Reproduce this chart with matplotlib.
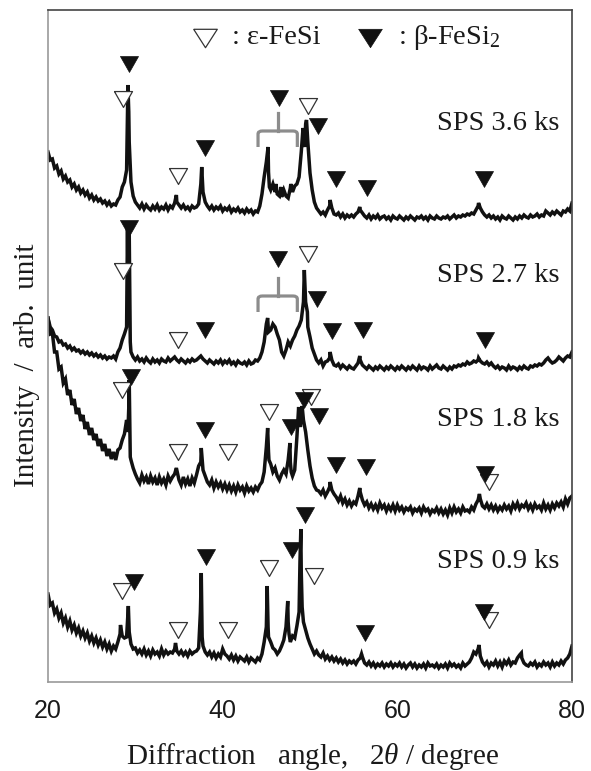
import matplotlib
matplotlib.use('Agg')
import matplotlib.pyplot as plt
import numpy as np
from matplotlib.path import Path
from matplotlib.patches import PathPatch

plt.rcParams['font.family'] = ['Liberation Serif', 'DejaVu Serif']
plt.rcParams['mathtext.fontset'] = 'custom'
plt.rcParams['mathtext.rm'] = 'Liberation Serif'
plt.rcParams['mathtext.it'] = 'Liberation Serif:italic'

# Common 2theta sampling (degree) for all four patterns
two_theta = np.arange(20.0, 80.001, 0.25)

# Intensities (arb. unit) on the common grid, one row per 5 degrees
counts_36 = [
    80, 72, 73, 64, 66, 58, 61, 53, 56, 50, 52, 45, 48, 42, 45, 39, 42, 37, 40, 34,
    37, 32, 35, 31, 33, 29, 31, 27, 30, 26, 28, 27, 32, 35, 45, 50, 62, 120, 50, 36,
    30, 27, 24, 28, 23, 27, 24, 22, 26, 23, 27, 22, 25, 23, 27, 22, 26, 24, 29, 30,
    27, 24, 27, 23, 25, 22, 26, 24, 25, 28, 48, 40, 30, 26, 23, 26, 22, 25, 23, 26,
    21, 24, 22, 25, 20, 23, 21, 24, 20, 22, 19, 23, 20, 22, 18, 21, 20, 26, 38, 55,
    70, 60, 42, 48, 40, 38, 36, 35, 42, 36, 34, 44, 40, 46, 48, 55, 80, 95, 108, 90,
    59, 42, 30, 24, 21, 18, 20, 17, 22, 26, 24, 18, 17, 19, 15, 18, 14, 17, 15, 17,
    15, 18, 20, 22, 19, 16, 14, 17, 13, 16, 14, 17, 13, 15, 16, 13, 15, 12, 16, 14,
    13, 16, 14, 12, 15, 13, 16, 14, 12, 15, 14, 16, 13, 15, 12, 16, 14, 13, 16, 14,
    13, 15, 14, 16, 13, 15, 17, 14, 16, 15, 17, 16, 18, 17, 19, 18, 22, 26, 24, 20,
    17, 15, 17, 14, 16, 13, 15, 12, 16, 14, 13, 16, 14, 12, 15, 13, 16, 14, 17, 15,
    14, 17, 15, 16, 18, 15, 17, 16, 21, 19, 17, 20, 18, 21, 19, 17, 21, 20, 23, 21,
    29]
counts_27 = [
    64, 55, 52, 46, 45, 40, 41, 37, 38, 34, 36, 32, 34, 31, 32, 29, 31, 28, 30, 27,
    29, 26, 28, 25, 27, 24, 26, 23, 25, 24, 26, 23, 30, 34, 42, 48, 55, 100, 30, 25,
    22, 25, 21, 23, 20, 24, 21, 19, 23, 20, 22, 19, 23, 21, 20, 24, 21, 23, 25, 22,
    20, 23, 21, 19, 22, 20, 23, 21, 22, 24, 26, 23, 21, 19, 22, 20, 18, 21, 19, 22,
    18, 21, 19, 22, 18, 20, 17, 21, 19, 18, 20, 17, 21, 18, 19, 22, 21, 24, 30, 40,
    58, 50, 52, 58, 55, 48, 42, 30, 26, 32, 40, 36, 42, 46, 52, 56, 62, 80, 80, 55,
    45, 34, 28, 22, 19, 22, 16, 20, 21, 24, 22, 17, 16, 18, 14, 17, 15, 13, 16, 14,
    13, 16, 19, 22, 17, 15, 13, 16, 14, 12, 15, 13, 16, 14, 12, 15, 13, 16, 14, 12,
    15, 13, 16, 14, 12, 15, 13, 16, 14, 12, 16, 13, 15, 14, 12, 16, 13, 15, 17, 14,
    13, 16, 14, 12, 15, 13, 16, 15, 17, 16, 18, 17, 20, 18, 19, 21, 20, 22, 21, 19,
    18, 20, 17, 19, 16, 14, 16, 13, 15, 14, 12, 16, 13, 15, 14, 12, 15, 13, 16, 14,
    13, 16, 15, 17, 16, 18, 17, 19, 22, 24, 21, 19, 20, 22, 25, 23, 21, 24, 26, 25,
    30]
counts_18 = [
    214, 198, 199, 180, 180, 163, 165, 149, 153, 137, 142, 127, 133, 118, 124, 111, 117, 103, 110, 97,
    104, 92, 98, 86, 93, 81, 88, 76, 83, 73, 80, 72, 82, 84, 92, 98, 112, 125, 72, 64,
    58, 53, 49, 57, 51, 55, 48, 56, 50, 54, 47, 55, 49, 53, 47, 56, 51, 55, 58, 62,
    52, 47, 55, 48, 53, 46, 54, 49, 57, 66, 70, 62, 56, 50, 47, 52, 44, 50, 45, 49,
    43, 48, 42, 47, 41, 46, 40, 47, 42, 45, 39, 46, 41, 44, 40, 45, 42, 47, 50, 60,
    85, 80, 68, 60, 64, 56, 52, 58, 62, 58, 72, 70, 56, 62, 95, 115, 115, 112, 100, 82,
    66, 54, 46, 42, 41, 38, 42, 36, 40, 45, 42, 38, 35, 31, 36, 29, 33, 27, 31, 26,
    30, 28, 36, 40, 32, 27, 30, 24, 28, 23, 27, 22, 29, 24, 27, 21, 26, 22, 27, 21,
    27, 22, 25, 20, 24, 22, 25, 19, 23, 21, 24, 19, 25, 21, 23, 18, 22, 20, 24, 19,
    23, 18, 22, 17, 24, 19, 25, 20, 23, 19, 25, 21, 22, 20, 25, 22, 28, 32, 33, 26,
    24, 28, 23, 27, 22, 26, 21, 25, 22, 27, 23, 26, 21, 28, 24, 29, 23, 27, 25, 29,
    23, 27, 22, 28, 24, 26, 22, 29, 23, 27, 22, 28, 24, 29, 26, 30, 25, 33, 28, 34,
    36]
counts_09 = [
    88, 77, 79, 69, 73, 64, 69, 59, 64, 55, 61, 52, 57, 49, 54, 46, 51, 44, 49, 41,
    46, 39, 44, 37, 42, 35, 40, 33, 38, 31, 36, 33, 40, 48, 46, 44, 45, 62, 38, 33,
    34, 29, 32, 28, 33, 27, 31, 26, 32, 28, 30, 26, 33, 27, 31, 28, 30, 29, 33, 31,
    28, 31, 27, 30, 26, 31, 28, 30, 31, 34, 90, 36, 30, 27, 30, 25, 29, 24, 28, 25,
    33, 28, 26, 23, 27, 22, 26, 21, 25, 23, 21, 25, 20, 24, 22, 20, 24, 22, 28, 40,
    55, 45, 40, 34, 32, 28, 31, 36, 42, 55, 60, 40, 46, 44, 56, 70, 110, 60, 52, 44,
    38, 33, 28, 31, 27, 25, 29, 23, 26, 22, 25, 21, 24, 20, 23, 19, 22, 18, 21, 19,
    21, 18, 22, 24, 25, 19, 17, 20, 16, 19, 15, 18, 16, 19, 15, 18, 16, 19, 15, 18,
    16, 19, 15, 18, 14, 17, 19, 15, 18, 14, 17, 15, 18, 14, 19, 16, 17, 15, 18, 14,
    17, 15, 18, 14, 19, 16, 18, 15, 17, 14, 19, 16, 18, 20, 24, 30, 28, 33, 26, 20,
    17, 20, 15, 19, 17, 21, 16, 20, 15, 21, 18, 22, 17, 20, 19, 24, 27, 24, 19, 17,
    16, 19, 17, 20, 15, 18, 16, 20, 17, 19, 15, 20, 16, 19, 17, 21, 18, 22, 24, 28,
    36]

# Sharp reflections between grid points: (2theta, intensity)
peaks_36 = [(29.15, 147), (29.3, 90), (34.7, 37), (37.6, 65), (45.2, 85),
            (45.35, 45), (46.1, 48), (46.7, 45), (47.8, 48), (48.85, 65),
            (49.2, 104), (49.4, 85), (49.6, 112), (52.3, 32), (55.7, 25),
            (69.3, 29)]
peaks_27 = [(29.1, 156), (29.2, 60), (29.3, 150), (29.42, 40), (45.15, 64),
            (49.35, 112), (49.7, 70), (52.3, 30), (55.7, 26), (69.3, 24)]
peaks_18 = [(29.15, 100), (29.3, 152), (29.42, 75), (34.7, 64), (37.55, 84),
            (45.15, 104), (45.3, 72), (47.7, 89), (47.85, 60), (48.7, 125),
            (48.9, 105), (49.1, 126), (52.3, 50), (55.7, 44), (69.4, 38)]
peaks_09 = [(28.3, 57), (29.1, 60), (29.2, 76), (29.3, 50), (34.6, 39),
            (37.45, 70), (37.55, 109), (37.65, 45), (45.1, 96), (45.2, 55),
            (47.45, 81), (47.6, 48), (48.85, 120), (48.95, 153), (49.1, 75),
            (55.9, 28), (69.35, 37), (74.2, 29)]

sample_labels = ['SPS 3.6 ks', 'SPS 2.7 ks', 'SPS 1.8 ks', 'SPS 0.9 ks']
offsets = [450, 300, 150, 0]
label_levels = [109, 107, 112, 120]

# Phase marks (2theta, height above the pattern offset)
eps_marks = [
    [(28.6, 133), (34.9, 56), (49.8, 126)],
    [(28.6, 111), (34.9, 42), (49.8, 128)],
    [(28.5, 142), (34.9, 80), (40.6, 80), (45.3, 120), (50.1, 135), (70.5, 50)],
    [(28.5, 91), (34.9, 52), (40.6, 52), (45.3, 114), (50.5, 106), (70.5, 62)],
]
beta_marks = [
    [(29.3, 168), (38.0, 84), (46.4, 134), (50.9, 106), (53.0, 53), (56.5, 44), (69.9, 53)],
    [(29.3, 154), (38.0, 52), (46.35, 123), (50.8, 83), (52.5, 51), (56.1, 52), (70.05, 42)],
    [(29.5, 155), (38.0, 102), (47.8, 105), (49.3, 132), (51.0, 116), (53.0, 67), (56.4, 65), (70.0, 58)],
    [(29.85, 100), (38.1, 125), (47.9, 132), (49.4, 167), (56.3, 49), (69.9, 70)],
]
# Braces over the 45-48 degree group: (centre, half width, level above offset)
braces = [(46.3, 2.25, 101), (46.3, 2.25, 86)]

patterns = [(counts_36, peaks_36), (counts_27, peaks_27),
            (counts_18, peaks_18), (counts_09, peaks_09)]

# closed downward triangles (slightly wider than tall)
tri = [(-1, 0.88), (1, 0.88), (0, -0.88), (-1, 0.88)]
tri_wide = [(-1, 0.78), (1, 0.78), (0, -0.78), (-1, 0.78)]


def merged(counts, extra):
    assert len(counts) == len(two_theta)
    x = np.concatenate([two_theta, [p[0] for p in extra]])
    y = np.concatenate([np.asarray(counts, float), [p[1] for p in extra]])
    order = np.argsort(x, kind='stable')
    return x[order], y[order]


fig = plt.figure(figsize=(5.91, 7.71), dpi=100)
ax = fig.add_axes([48 / 591, 1 - 682 / 771, 524 / 591, 672 / 771])
ax.set_xlim(20, 80)
ax.set_ylim(0, 672)

for (counts, extra), off in zip(patterns, offsets):
    x, y = merged(counts, extra)
    ax.plot(x, y + off, color='#111111', lw=2.5, solid_joinstyle='miter', zorder=2)

for i, off in enumerate(offsets):
    for ang, lev in eps_marks[i]:
        ax.plot(ang, lev + off, marker=tri, ms=13, mfc='white', mec='#333333',
                mew=0.9, ls='none', zorder=3)
    for ang, lev in beta_marks[i]:
        ax.plot(ang, lev + off, marker=tri, ms=13, mfc='#111111', mec='#111111',
                mew=0.5, ls='none', zorder=4)
    ax.text(78.6, label_levels[i] + off, sample_labels[i], fontsize=20.5,
            ha='right', va='center', color='#1a1a1a')

# gray braces grouping the 45-48 degree reflections
for (cx, hw, lev), off in zip(braces, offsets[:2]):
    h = lev + off
    left, right = cx - hw, cx + hw
    verts = [(left, h - 16), (left, h - 3), (left, h), (left + 0.5, h),
             (right - 0.5, h), (right, h), (right, h - 3), (right, h - 16)]
    codes = [Path.MOVETO, Path.LINETO, Path.CURVE3, Path.CURVE3,
             Path.LINETO, Path.CURVE3, Path.CURVE3, Path.LINETO]
    ax.add_patch(PathPatch(Path(verts, codes), fill=False, ec='#8c8c8c',
                           lw=2.3, zorder=3))
    ax.plot([cx, cx], [h, h + 18], color='#8c8c8c', lw=2.3, zorder=3)

# phase key along the top
ax.plot(37.98, 644, marker=tri_wide, ms=17, mfc='white', mec='#333333',
        mew=0.9, ls='none')
ax.text(41.1, 644, ': ε-FeSi', fontsize=20.5, ha='left', va='center', color='#1a1a1a')
ax.plot(56.87, 644, marker=tri_wide, ms=17, mfc='#111111', mec='#111111',
        mew=0.5, ls='none')
ax.text(60.1, 644, ': β-FeSi$_2$', fontsize=20.5, ha='left', va='center', color='#1a1a1a')

ax.set_xticks([20, 40, 60, 80])
ax.set_yticks([])
ax.tick_params(axis='x', length=0, pad=12, labelsize=18)
for lab in ax.get_xticklabels():
    lab.set_fontfamily('Liberation Sans')
    lab.set_color('#1a1a1a')

for side in ['left', 'bottom']:
    ax.spines[side].set_color('#999999')
    ax.spines[side].set_linewidth(1.2)
for side in ['top', 'right']:
    ax.spines[side].set_color('#444444')
    ax.spines[side].set_linewidth(1.2)

fig.text(313 / 591, 1 - 756 / 771, 'Diffraction   angle,   2$\\it{\\theta}$ / degree',
         fontsize=21, ha='center', va='center', color='#1a1a1a')
fig.text(27.5 / 591, 1 - 365 / 771, 'Intensity  /  arb.  unit', fontsize=21,
         rotation=90, ha='center', va='center', color='#1a1a1a')

fig.savefig('out.png', dpi=100, facecolor='white')
